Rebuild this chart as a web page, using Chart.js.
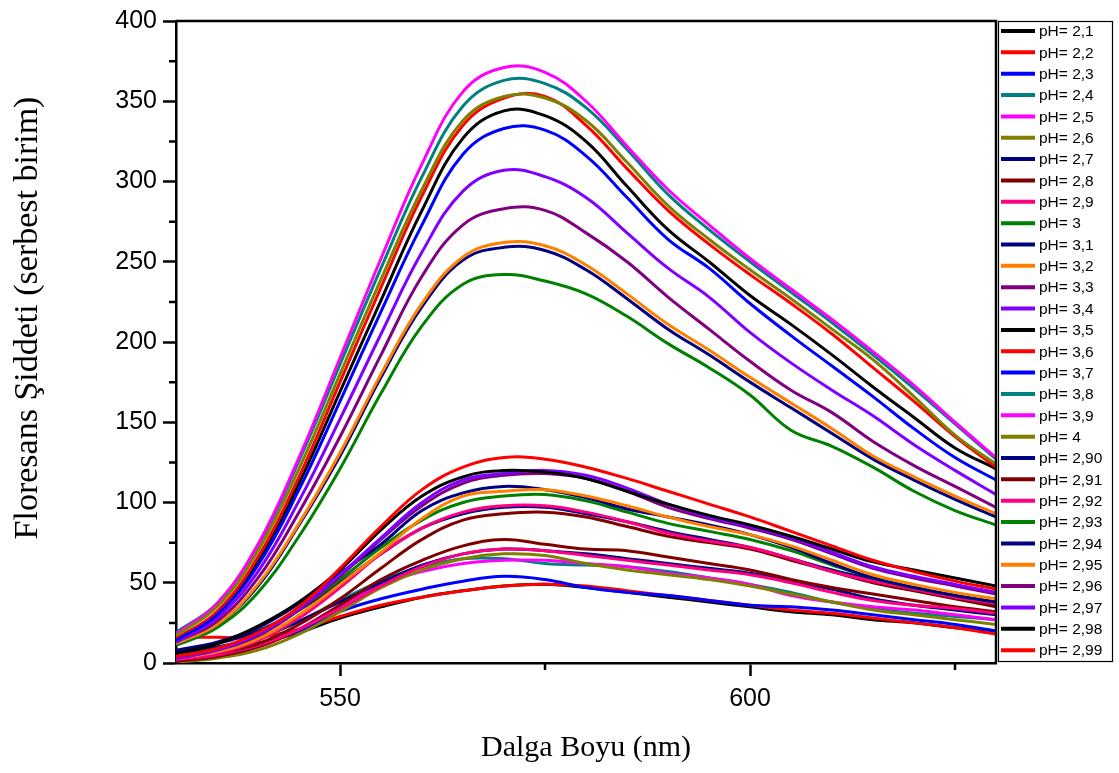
<!DOCTYPE html>
<html><head><meta charset="utf-8">
<script src="https://cdn.jsdelivr.net/npm/chart.js@4"></script>
<style>html,body{margin:0;padding:0;background:#fff}canvas{display:block}</style>
</head><body>
<canvas id="c" width="1119" height="773"></canvas>
<script>
// Wavelength (nm)
const wavelengths = [530,535,540,545,550,555,560,565,570,575,580,585,590,595,600,605,610,615,620,625,630];

// Fluorescence intensity series
const pH2_1  = [2,6,12,19,28,35,41,45,48,49,47,44,41,38,35,32,30,27,25,22,20];
const pH2_2  = [16,16,16,21,29,36,41,45,48,49,48,45,42,39,36,33,31,28,25,22,18];
const pH2_3  = [3,7,12,20,32,40,46,51,54,52,47,44,42,39,36,35,33,30,27,24,20];
const pH2_4  = [4,8,15,26,39,51,60,65,65,62,61,60,57,53,49,44,38,34,31,29,27];
const pH2_5  = [1,4,10,21,36,49,57,62,64,64,62,60,56,53,49,42,38,35,33,30,27];
const pH2_6  = [0.5,3,8,18,32,47,58,65,68,67,62,58,55,52,48,43,38,33,30,27,24];
const pH2_7  = [6,10,16,26,38,50,61,68,71,70,68,65,62,59,56,51,46,40,36,33,30];
const pH2_8  = [1,4,10,21,36,52,64,73,77,74,71,70,66,62,58,52,47,43,39,35,32];
const pH2_9  = [2,5,11,21,34,48,60,68,71,70,67,64,61,58,55,50,44,39,36,34,31];
const pH3    = [11,22,44,79,121,168,210,236,242,238,230,216,199,184,167,145,135,122,107,95,86];
const pH3_1  = [12,24,48,86,129,178,222,251,259,257,245,227,208,192,175,159,143,127,114,102,91];
const pH3_2  = [12,24,49,87,131,180,224,253,262,260,248,230,211,195,178,162,146,129,116,104,93];
const pH3_3  = [13,26,53,94,141,192,241,273,283,282,268,250,228,208,188,170,156,138,123,110,97];
const pH3_4  = [13,28,57,101,152,205,256,294,307,303,290,268,246,228,206,187,170,154,136,120,105];
const pH3_5  = [15,31,63,112,169,226,282,327,344,341,325,297,270,250,229,211,192,172,153,134,121];
const pH3_6  = [15,32,66,116,175,234,291,335,352,353,335,308,282,261,242,224,205,184,163,141,122];
const pH3_7  = [14,30,61,108,163,219,273,317,333,332,316,290,264,246,224,204,185,166,146,128,114];
const pH3_8  = [19,37,73,126,186,246,303,347,363,361,346,320,292,270,250,231,212,192,171,149,127];
const pH3_9  = [18,37,74,128,190,252,311,356,371,368,350,322,295,273,252,233,214,194,173,150,128];
const pH4    = [17,35,70,121,180,239,295,338,353,352,338,312,285,264,245,227,208,189,166,142,124];
const pH2_90 = [7,12,20,33,50,68,84,93,97,97,93,88,82,77,72,65,58,52,46,41,36];
const pH2_91 = [2,6,12,24,40,59,77,89,93,94,91,85,79,75,71,64,57,50,45,40,35];
const pH2_92 = [2,6,14,28,47,68,84,94,98,98,94,88,81,76,72,65,57,51,46,41,37];
const pH2_93 = [4,9,18,33,52,72,89,100,104,105,101,94,87,82,77,70,61,53,47,42,38];
const pH2_94 = [8,13,22,37,56,74,95,106,110,108,103,96,91,86,80,72,62,53,47,42,38];
const pH2_95 = [3,7,15,30,49,69,90,104,107,108,104,98,91,85,80,73,64,55,49,44,40];
const pH2_96 = [3,8,17,33,54,77,98,112,117,118,115,107,97,90,84,77,68,59,53,48,43];
const pH2_97 = [3,8,18,34,55,78,100,114,118,120,117,109,99,91,85,78,69,60,54,49,44];
const pH2_98 = [6,12,23,38,58,83,104,116,120,119,115,107,99,92,86,79,71,63,58,53,48];
const pH2_99 = [4,9,19,35,59,85,108,122,128,127,122,115,107,99,91,82,73,64,57,51,46];

const seriesValues = [pH2_1,pH2_2,pH2_3,pH2_4,pH2_5,pH2_6,pH2_7,pH2_8,pH2_9,pH3,pH3_1,pH3_2,pH3_3,pH3_4,pH3_5,pH3_6,pH3_7,pH3_8,pH3_9,pH4,pH2_90,pH2_91,pH2_92,pH2_93,pH2_94,pH2_95,pH2_96,pH2_97,pH2_98,pH2_99];
const seriesLabels = ['pH= 2,1','pH= 2,2','pH= 2,3','pH= 2,4','pH= 2,5','pH= 2,6','pH= 2,7','pH= 2,8','pH= 2,9','pH= 3','pH= 3,1','pH= 3,2','pH= 3,3','pH= 3,4','pH= 3,5','pH= 3,6','pH= 3,7','pH= 3,8','pH= 3,9','pH= 4','pH= 2,90','pH= 2,91','pH= 2,92','pH= 2,93','pH= 2,94','pH= 2,95','pH= 2,96','pH= 2,97','pH= 2,98','pH= 2,99'];
const seriesColors = ['#000000','#FF0000','#0000FF','#008080','#FF00FF','#808000','#000080','#800000','#FF0080','#008000','#000080','#FF8000','#800080','#8000FF','#000000','#FF0000','#0000FF','#008080','#FF00FF','#808000','#000080','#800000','#FF0080','#008000','#000080','#FF8000','#800080','#8000FF','#000000','#FF0000'];

const xTickValues = [550, 600];
const xMinorTicks = [575, 625];
const yMinorTicks = [25, 75, 125, 175, 225, 275, 325, 375];
const yTitleText = 'Floresans Şiddeti (serbest birim)';

const framePlugin = {
  id: 'frame',
  afterDatasetsDraw(chart) {
    const {ctx, chartArea: a, scales} = chart;
    ctx.save();
    ctx.strokeStyle = '#000';
    ctx.lineWidth = 2.5;
    ctx.beginPath();
    ctx.moveTo(a.left, a.top); ctx.lineTo(a.right, a.top); ctx.lineTo(a.right, a.bottom);
    ctx.stroke();
    ctx.beginPath();
    yMinorTicks.forEach(v => { const y = scales.y.getPixelForValue(v); ctx.moveTo(a.left - 7, y); ctx.lineTo(a.left, y); });
    xMinorTicks.forEach(v => { const x = scales.x.getPixelForValue(v); ctx.moveTo(x, a.bottom); ctx.lineTo(x, a.bottom + 7); });
    ctx.stroke();
    ctx.restore();
  }
};

const yTitlePlugin = {
  id: 'yTitle',
  afterDraw(chart) {
    const {ctx, chartArea: a} = chart;
    ctx.save();
    ctx.translate(a.left - 148, (a.top + a.bottom) / 2 - 24);
    ctx.rotate(-Math.PI / 2);
    ctx.font = '34px "Liberation Serif"';
    ctx.fillStyle = '#000';
    ctx.textAlign = 'center';
    ctx.textBaseline = 'middle';
    ctx.fillText(yTitleText, 0, 0);
    ctx.restore();
  }
};

const legendPlugin = {
  id: 'sideLegend',
  afterDraw(chart) {
    const {ctx, chartArea: a} = chart;
    const left = a.right + 2, top = a.top, w = 114, h = a.bottom - a.top - 2;
    ctx.save();
    ctx.strokeStyle = '#000';
    ctx.lineWidth = 1.2;
    ctx.strokeRect(left + 0.5, top + 0.5, w, h);
    const step = 21.35;
    chart.data.datasets.forEach((ds, i) => {
      const y = top + 10 + i * step;
      ctx.strokeStyle = ds.borderColor;
      ctx.lineWidth = 4;
      ctx.beginPath(); ctx.moveTo(left + 3, y); ctx.lineTo(left + 37, y); ctx.stroke();
      ctx.font = '15.5px "Liberation Sans"';
      ctx.fillStyle = '#000';
      ctx.textAlign = 'left';
      ctx.textBaseline = 'middle';
      ctx.fillText(ds.label, left + 41, y + 1);
    });
    ctx.restore();
  }
};

new Chart(document.getElementById('c').getContext('2d'), {
  type: 'line',
  data: {
    datasets: seriesValues.map((vals, i) => ({
      label: seriesLabels[i],
      data: wavelengths.map((w, j) => ({x: w, y: vals[j]})),
      borderColor: seriesColors[i],
      backgroundColor: seriesColors[i],
      borderWidth: 3,
      pointRadius: 0,
      fill: false,
      tension: 0.4,
      order: seriesValues.length - i
    }))
  },
  options: {
    responsive: false,
    animation: false,
    devicePixelRatio: 1,
    layout: {padding: {left: 0, top: 20, right: 123, bottom: 0}},
    plugins: {legend: {display: false}, tooltip: {enabled: false}},
    scales: {
      x: {
        type: 'linear', min: 530, max: 630,
        afterBuildTicks: s => { s.ticks = xTickValues.map(v => ({value: v})); },
        afterFit: s => { s.height = 110; },
        grid: {drawOnChartArea: false, tickLength: 13, tickWidth: 2.5, tickColor: '#000'},
        border: {display: true, width: 2.5, color: '#000'},
        ticks: {font: {family: 'Liberation Sans', size: 25}, color: '#000', padding: 8, maxRotation: 0},
        title: {display: true, text: 'Dalga Boyu (nm)', color: '#000', font: {family: 'Liberation Serif', size: 30}, padding: {top: 0, bottom: 7}}
      },
      y: {
        min: 0, max: 400,
        afterFit: s => { s.width = 176; },
        grid: {drawOnChartArea: false, tickLength: 13, tickWidth: 2.5, tickColor: '#000'},
        border: {display: true, width: 2.5, color: '#000'},
        ticks: {stepSize: 50, font: {family: 'Liberation Sans', size: 25}, color: '#000', padding: 6},
        title: {display: false}
      }
    }
  },
  plugins: [framePlugin, yTitlePlugin, legendPlugin]
});
</script>
</body></html>
